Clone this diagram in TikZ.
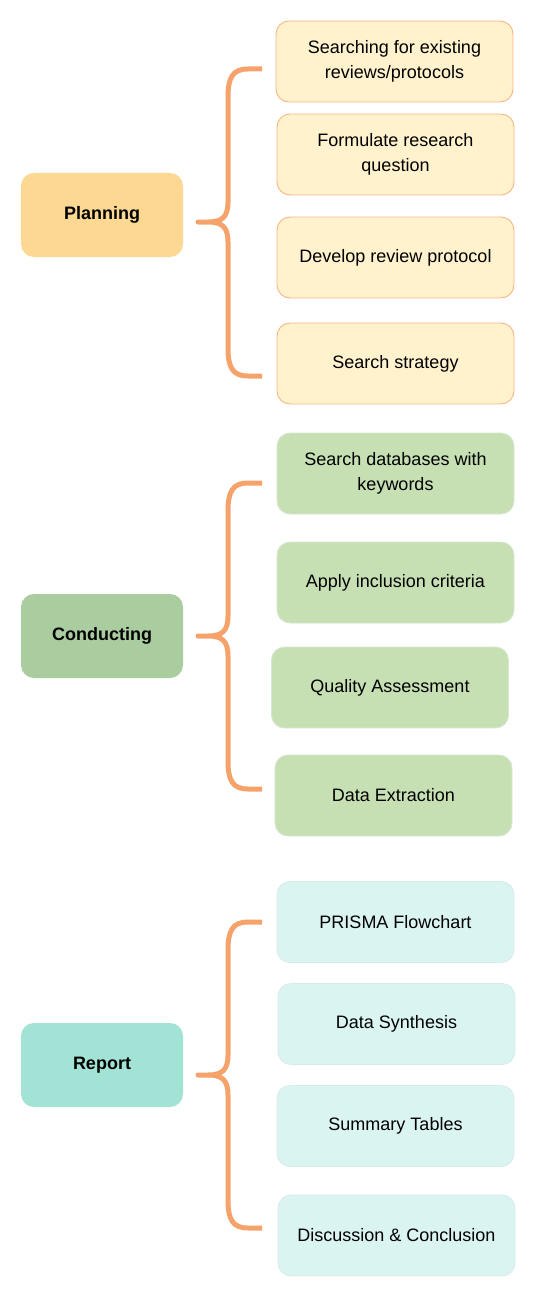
\documentclass[tikz,border=0pt]{standalone}
\usepackage{fontspec}
\setmainfont{Liberation Sans}
\definecolor{plmain}{HTML}{FDD892}
\definecolor{cmain}{HTML}{AACDA0}
\definecolor{rmain}{HTML}{A3E3D6}
\definecolor{plsub}{HTML}{FFF2CC}
\definecolor{plline}{HTML}{F8B583}
\definecolor{csub}{HTML}{C6E0B4}
\definecolor{cline}{HTML}{D8E6D0}
\definecolor{rsub}{HTML}{DAF4F2}
\definecolor{rline}{HTML}{D9EBE9}
\definecolor{bracec}{HTML}{F5A36B}
\newcommand\drawbrace[3]{%
  \draw[bracestyle] (262,#1) -- (248,#1)
    .. controls (233,#1) and (228,#1+8) .. (228,#1+28)
    -- (228,#2-20)
    .. controls (228,#2-5) and (222,#2) .. (208,#2)
    -- (198,#2) -- (208,#2)
    .. controls (222,#2) and (228,#2+5) .. (228,#2+20)
    -- (228,#3-28)
    .. controls (228,#3-8) and (233,#3) .. (248,#3)
    -- (262,#3);}
\begin{document}
\begin{tikzpicture}[x=1pt,y=-1pt,
  mainbox/.style={rounded corners=13pt, minimum width=162pt, minimum height=84pt,
    inner sep=0pt, align=center, font=\fontsize{18}{25}\selectfont\bfseries},
  subbox/.style={rounded corners=13pt, minimum width=237pt, minimum height=81pt,
    inner sep=0pt, align=center, line width=0.9pt, font=\fontsize{18}{25}\selectfont},
  plbox/.style={subbox, fill=plsub, draw=plline},
  cbox/.style={subbox, fill=csub, draw=cline},
  rbox/.style={subbox, fill=rsub, draw=rline},
  bracestyle/.style={draw=bracec, line width=5pt, line join=round}
]
\useasboundingbox (0,0) rectangle (550,1300);

% Planning
\node[mainbox, fill=plmain] (pl) at (102,215) {Planning};
\node[plbox] (p1) at (394.5,61.5) {Searching for existing\\reviews/protocols};
\node[plbox] (p2) at (395.5,154.5) {Formulate research\\question};
\node[plbox] (p3) at (395.5,257.5) {Develop review protocol};
\node[plbox] (p4) at (395.5,363.5) {Search strategy};
\drawbrace{69}{222}{376}

% Conducting
\node[mainbox, fill=cmain] (co) at (102,636) {Conducting};
\node[cbox] (c1) at (395.5,473.5) {Search databases with\\keywords};
\node[cbox] (c2) at (395.5,582.5) {Apply inclusion criteria};
\node[cbox] (c3) at (390,687.5) {Quality Assessment};
\node[cbox] (c4) at (393.5,795.5) {Data Extraction};
\drawbrace{483}{636}{789}

% Report
\node[mainbox, fill=rmain] (re) at (102,1065) {Report};
\node[rbox] (r1) at (395.5,922) {PRISMA Flowchart};
\node[rbox] (r2) at (396.5,1024) {Data Synthesis};
\node[rbox] (r3) at (395.5,1126) {Summary Tables};
\node[rbox] (r4) at (396.5,1235.5) {Discussion \& Conclusion};
\drawbrace{922}{1075}{1228}
\end{tikzpicture}
\end{document}
